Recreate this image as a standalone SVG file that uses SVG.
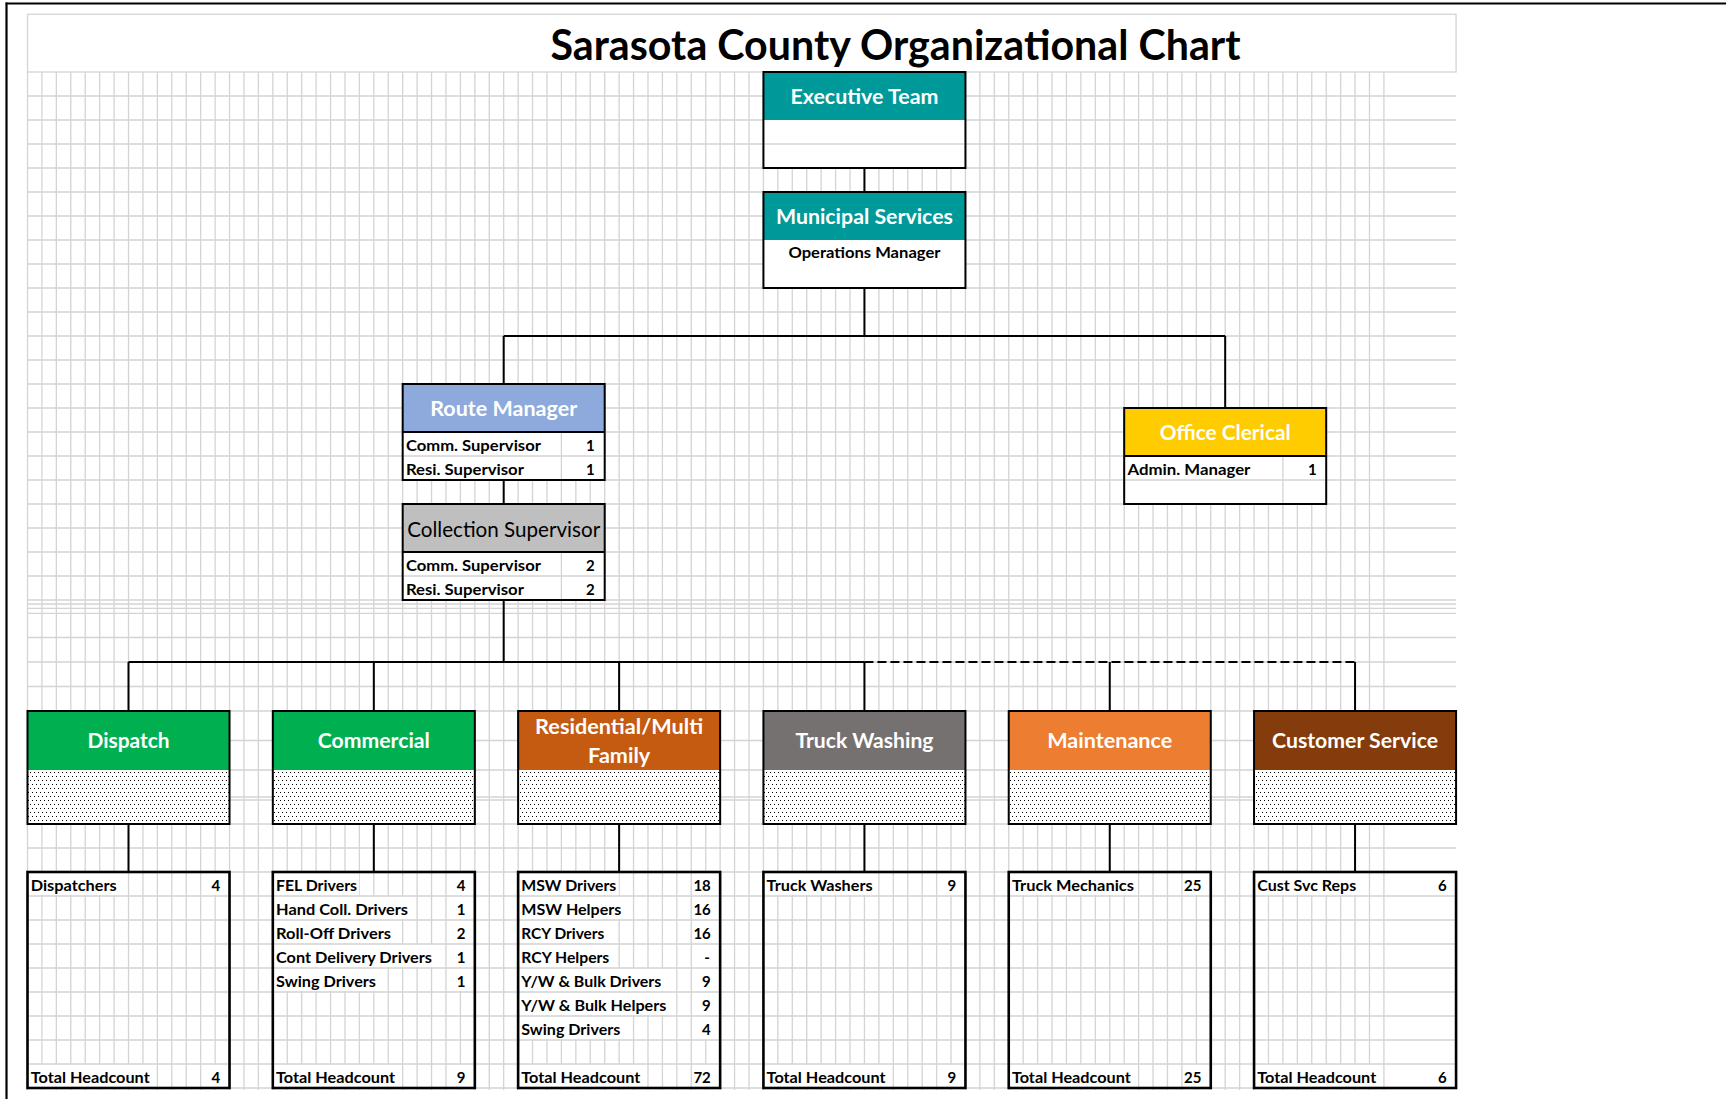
<svg xmlns="http://www.w3.org/2000/svg" width="1726" height="1099" viewBox="0 0 1726 1099">
<style>
.g{stroke:#D4D4D4;stroke-width:1.3;fill:none}
.bx{fill:none;stroke:#000;stroke-width:2}
.lbx{fill:none;stroke:#000;stroke-width:2.6}
.c{stroke:#000;stroke-width:2;fill:none}
.d{stroke-dasharray:9 4}
.w{fill:#fff}
text{font-family:Lato,"Open Sans","Liberation Sans",sans-serif}
.h{font-weight:700;font-size:21px;fill:#fff;text-anchor:middle}
.s{font-weight:700;font-size:15px;fill:#000}
.n{font-weight:700;font-size:15px;fill:#000;text-anchor:end}
</style>
<defs>
<pattern id="dots" width="4" height="8" patternUnits="userSpaceOnUse">
<rect width="4" height="8" fill="#fff"/>
<rect x="0" y="0" width="1" height="1" fill="#000"/>
<rect x="2" y="4" width="1" height="1" fill="#000"/>
</pattern>
</defs>
<rect width="1726" height="1099" fill="#fff"/>
<g id="frame">
<path d="M5.7 3.5H1726" stroke="#000" stroke-width="2" fill="none"/>
<path d="M6.5 2.5V1099" stroke="#000" stroke-width="2.2" fill="none"/>
</g>
<g id="grid">
<path class="g" d="M27.5 72v1018m14.43-1018v1018m14.43-1018v1018m14.43-1018v1018m14.43-1018v1018m14.43-1018v1018m14.43-1018v1018m14.43-1018v1018m14.43-1018v1018m14.43-1018v1018m14.43-1018v1018m14.43-1018v1018m14.43-1018v1018m14.43-1018v1018m14.43-1018v1018m14.43-1018v1018m14.43-1018v1018m14.43-1018v1018m14.43-1018v1018m14.43-1018v1018m14.43-1018v1018m14.43-1018v1018m14.43-1018v1018m14.43-1018v1018m14.43-1018v1018m14.43-1018v1018m14.43-1018v1018m14.43-1018v1018m14.43-1018v1018m14.43-1018v1018m14.43-1018v1018m14.43-1018v1018m14.43-1018v1018m14.43-1018v1018m14.43-1018v1018m14.43-1018v1018m14.43-1018v1018m14.43-1018v1018m14.43-1018v1018m14.43-1018v1018m14.43-1018v1018m14.43-1018v1018m14.43-1018v1018m14.43-1018v1018m14.43-1018v1018m14.43-1018v1018m14.43-1018v1018m14.43-1018v1018m14.43-1018v1018m14.43-1018v1018m14.43-1018v1018m14.43-1018v1018m14.43-1018v1018m14.43-1018v1018m14.43-1018v1018m14.43-1018v1018m14.43-1018v1018m14.43-1018v1018m14.43-1018v1018m14.43-1018v1018m14.43-1018v1018m14.43-1018v1018m14.43-1018v1018m14.43-1018v1018m14.43-1018v1018m14.43-1018v1018m14.43-1018v1018m14.43-1018v1018m14.43-1018v1018m14.43-1018v1018m14.43-1018v1018m14.43-1018v1018m14.43-1018v1018m14.43-1018v1018m14.43-1018v1018m14.43-1018v1018m14.43-1018v1018m14.43-1018v1018m14.43-1018v1018m14.43-1018v1018m14.43-1018v1018m14.43-1018v1018m14.43-1018v1018m14.43-1018v1018m14.43-1018v1018m14.43-1018v1018m14.43-1018v1018m14.43-1018v1018m14.43-1018v1018m14.43-1018v1018m14.43-1018v1018m14.43-1018v1018m14.43-1018v1018m14.43-1018v1018m14.43-1018v1018"/>
<path class="g" d="M27.5 96H1456.07M27.5 120H1456.07M27.5 144H1456.07M27.5 168H1456.07M27.5 192H1456.07M27.5 216H1456.07M27.5 240H1456.07M27.5 264H1456.07M27.5 288H1456.07M27.5 312H1456.07M27.5 336H1456.07M27.5 360H1456.07M27.5 384H1456.07M27.5 408H1456.07M27.5 432H1456.07M27.5 456H1456.07M27.5 480H1456.07M27.5 504H1456.07M27.5 528H1456.07M27.5 552H1456.07M27.5 576H1456.07M27.5 600H1456.07M27.5 604H1456.07M27.5 608.3H1456.07M27.5 613.3H1456.07M27.5 637.5H1456.07M27.5 662H1456.07M27.5 686.5H1456.07M27.5 711H1456.07M27.5 740.5H1456.07M27.5 770H1456.07M27.5 797H1456.07M27.5 800H1456.07M27.5 824H1456.07M27.5 848H1456.07M27.5 872H1456.07M27.5 896H1456.07M27.5 920H1456.07M27.5 944H1456.07M27.5 968H1456.07M27.5 992H1456.07M27.5 1016H1456.07M27.5 1040H1456.07M27.5 1064H1456.07M27.5 1088H1456.07"/>
<rect x="27.5" y="14.3" width="1428.57" height="57.7" fill="#fff" stroke="#D4D4D4" stroke-width="1.3"/>
</g>
<text id="title" x="895.5" y="60" font-size="42" font-weight="700" text-anchor="middle" fill="#000" textLength="690" lengthAdjust="spacingAndGlyphs">Sarasota County Organizational Chart</text>

<g id="executive-team">
<rect class="w" x="763.43" y="72" width="202.02" height="96"/>
<rect x="763.43" y="72" width="202.02" height="48" fill="#009999"/>
<path class="g" d="M764.4 144H964.5"/>
<rect class="bx" x="763.43" y="72" width="202.02" height="96"/>
<text class="h" x="864.44" y="103.5" textLength="148" lengthAdjust="spacingAndGlyphs">Executive Team</text>
</g>
<g id="municipal-services">
<rect class="w" x="763.43" y="192" width="202.02" height="96"/>
<rect x="763.43" y="192" width="202.02" height="48" fill="#009999"/>
<rect class="bx" x="763.43" y="192" width="202.02" height="96"/>
<text class="h" x="864.44" y="223.5" textLength="177" lengthAdjust="spacingAndGlyphs">Municipal Services</text>
<text class="s" x="864.44" y="257.5" text-anchor="middle" textLength="152" lengthAdjust="spacingAndGlyphs">Operations Manager</text>
</g>
<g id="route-manager">
<rect class="w" x="402.68" y="384" width="202.02" height="96"/>
<rect x="402.68" y="384" width="202.02" height="48" fill="#8EA9DB"/>
<path class="g" d="M403.7 456H603.7M561.41 433V479"/>
<path class="c" d="M402.68 432H604.7"/>
<rect class="bx" x="402.68" y="384" width="202.02" height="96"/>
<text class="h" x="503.69" y="415.5" textLength="147" lengthAdjust="spacingAndGlyphs">Route Manager</text>
<text class="s" x="405.9" y="450.5" textLength="135" lengthAdjust="spacingAndGlyphs">Comm. Supervisor</text>
<text class="n" x="594.7" y="450.5">1</text>
<text class="s" x="405.9" y="474.5" textLength="118" lengthAdjust="spacingAndGlyphs">Resi. Supervisor</text>
<text class="n" x="594.7" y="474.5" font-weight="400">1</text>
</g>
<g id="collection-supervisor">
<rect class="w" x="402.68" y="504" width="202.02" height="96"/>
<rect x="402.68" y="504" width="202.02" height="48" fill="#BFBFBF"/>
<path class="g" d="M403.7 576H603.7M561.41 553V599"/>
<path class="c" d="M402.68 552H604.7"/>
<rect class="bx" x="402.68" y="504" width="202.02" height="96"/>
<text x="503.69" y="536.5" font-size="21" text-anchor="middle" fill="#000" textLength="193" lengthAdjust="spacingAndGlyphs">Collection Supervisor</text>
<text class="s" x="405.9" y="570.5" textLength="135" lengthAdjust="spacingAndGlyphs">Comm. Supervisor</text>
<text class="n" x="594.7" y="570.5">2</text>
<text class="s" x="405.9" y="594.5" textLength="118" lengthAdjust="spacingAndGlyphs">Resi. Supervisor</text>
<text class="n" x="594.7" y="594.5">2</text>
</g>
<g id="office-clerical">
<rect class="w" x="1124.18" y="408" width="202.02" height="96"/>
<rect x="1124.18" y="408" width="202.02" height="48" fill="#FFCC00"/>
<path class="g" d="M1125.2 480H1325.2M1282.91 457V503"/>
<path class="c" d="M1124.18 456H1326.2"/>
<rect class="bx" x="1124.18" y="408" width="202.02" height="96"/>
<text class="h" x="1225.19" y="439.5" textLength="131" lengthAdjust="spacingAndGlyphs">Office Clerical</text>
<text class="s" x="1127.4" y="474.5" textLength="123" lengthAdjust="spacingAndGlyphs">Admin. Manager</text>
<text class="n" x="1316.7" y="474.5">1</text>
</g>

<g id="dispatch">
<rect x="27.5" y="711" width="202.02" height="59" fill="#00B050"/>
<rect x="27.5" y="770" width="202.02" height="54" fill="url(#dots)"/>
<rect class="bx" x="27.5" y="711" width="202.02" height="113"/>
<text class="h" x="128.51" y="748" textLength="82" lengthAdjust="spacingAndGlyphs">Dispatch</text>
</g>
<g id="commercial">
<rect x="272.81" y="711" width="202.02" height="59" fill="#00B050"/>
<rect x="272.81" y="770" width="202.02" height="54" fill="url(#dots)"/>
<rect class="bx" x="272.81" y="711" width="202.02" height="113"/>
<text class="h" x="373.82" y="748" textLength="112" lengthAdjust="spacingAndGlyphs">Commercial</text>
</g>
<g id="residential-multi-family">
<rect x="518.12" y="711" width="202.02" height="59" fill="#C55A11"/>
<rect x="518.12" y="770" width="202.02" height="54" fill="url(#dots)"/>
<rect class="bx" x="518.12" y="711" width="202.02" height="113"/>
<text class="h" x="619.13" y="733.5" textLength="168" lengthAdjust="spacingAndGlyphs">Residential/Multi</text>
<text class="h" x="619.13" y="763" textLength="62" lengthAdjust="spacingAndGlyphs">Family</text>
</g>
<g id="truck-washing">
<rect x="763.43" y="711" width="202.02" height="59" fill="#767171"/>
<rect x="763.43" y="770" width="202.02" height="54" fill="url(#dots)"/>
<rect class="bx" x="763.43" y="711" width="202.02" height="113"/>
<text class="h" x="864.44" y="748" textLength="138" lengthAdjust="spacingAndGlyphs">Truck Washing</text>
</g>
<g id="maintenance">
<rect x="1008.74" y="711" width="202.02" height="59" fill="#ED7D31"/>
<rect x="1008.74" y="770" width="202.02" height="54" fill="url(#dots)"/>
<rect class="bx" x="1008.74" y="711" width="202.02" height="113"/>
<text class="h" x="1109.75" y="748" textLength="125" lengthAdjust="spacingAndGlyphs">Maintenance</text>
</g>
<g id="customer-service">
<rect x="1254.05" y="711" width="202.02" height="59" fill="#843C0C"/>
<rect x="1254.05" y="770" width="202.02" height="54" fill="url(#dots)"/>
<rect class="bx" x="1254.05" y="711" width="202.02" height="113"/>
<text class="h" x="1355.06" y="748" textLength="166" lengthAdjust="spacingAndGlyphs">Customer Service</text>
</g>

<g id="dispatch-staff">
<rect class="w" x="29" y="873" width="90" height="22"/><rect class="w" x="210" y="873" width="12" height="22"/>
<rect class="w" x="29" y="1065" width="123" height="22"/><rect class="w" x="210" y="1065" width="12" height="22"/>
<rect class="lbx" x="27.5" y="872" width="202.02" height="216"/>
<text class="s" x="30.7" y="890.8" textLength="86" lengthAdjust="spacingAndGlyphs">Dispatchers</text><text class="n" x="220.2" y="890.8">4</text>
<text class="s" x="30.7" y="1082.8" textLength="119" lengthAdjust="spacingAndGlyphs">Total Headcount</text><text class="n" x="220.2" y="1082.8">4</text>
</g>
<g id="commercial-staff">
<rect class="w" x="274.3" y="873" width="85" height="22"/><rect class="w" x="455.5" y="873" width="12" height="22"/>
<rect class="w" x="274.3" y="897" width="136" height="22"/><rect class="w" x="455.5" y="897" width="12" height="22"/>
<rect class="w" x="274.3" y="921" width="119" height="22"/><rect class="w" x="455.5" y="921" width="12" height="22"/>
<rect class="w" x="274.3" y="945" width="160" height="22"/><rect class="w" x="455.5" y="945" width="12" height="22"/>
<rect class="w" x="274.3" y="969" width="104" height="22"/><rect class="w" x="455.5" y="969" width="12" height="22"/>
<rect class="w" x="274.3" y="1065" width="123" height="22"/><rect class="w" x="455.5" y="1065" width="12" height="22"/>
<rect class="lbx" x="272.81" y="872" width="202.02" height="216"/>
<text class="s" x="276" y="890.8" textLength="81" lengthAdjust="spacingAndGlyphs">FEL Drivers</text><text class="n" x="465.5" y="890.8">4</text>
<text class="s" x="276" y="914.8" textLength="132" lengthAdjust="spacingAndGlyphs">Hand Coll. Drivers</text><text class="n" x="465.5" y="914.8">1</text>
<text class="s" x="276" y="938.8" textLength="115" lengthAdjust="spacingAndGlyphs">Roll-Off Drivers</text><text class="n" x="465.5" y="938.8">2</text>
<text class="s" x="276" y="962.8" textLength="156" lengthAdjust="spacingAndGlyphs">Cont Delivery Drivers</text><text class="n" x="465.5" y="962.8">1</text>
<text class="s" x="276" y="986.8" textLength="100" lengthAdjust="spacingAndGlyphs">Swing Drivers</text><text class="n" x="465.5" y="986.8">1</text>
<text class="s" x="276" y="1082.8" textLength="119" lengthAdjust="spacingAndGlyphs">Total Headcount</text><text class="n" x="465.5" y="1082.8">9</text>
</g>
<g id="residential-staff">
<rect class="w" x="519.6" y="873" width="99" height="22"/><rect class="w" x="693" y="873" width="20" height="22"/>
<rect class="w" x="519.6" y="897" width="104" height="22"/><rect class="w" x="693" y="897" width="20" height="22"/>
<rect class="w" x="519.6" y="921" width="87" height="22"/><rect class="w" x="693" y="921" width="20" height="22"/>
<rect class="w" x="519.6" y="945" width="92" height="22"/><rect class="w" x="700" y="945" width="13" height="22"/>
<rect class="w" x="519.6" y="969" width="144" height="22"/><rect class="w" x="700" y="969" width="13" height="22"/>
<rect class="w" x="519.6" y="993" width="149" height="22"/><rect class="w" x="700" y="993" width="13" height="22"/>
<rect class="w" x="519.6" y="1017" width="103" height="22"/><rect class="w" x="700" y="1017" width="13" height="22"/>
<rect class="w" x="519.6" y="1065" width="123" height="22"/><rect class="w" x="693" y="1065" width="20" height="22"/>
<rect class="lbx" x="518.12" y="872" width="202.02" height="216"/>
<text class="s" x="521.3" y="890.8" textLength="95" lengthAdjust="spacingAndGlyphs">MSW Drivers</text><text class="n" x="710.8" y="890.8">18</text>
<text class="s" x="521.3" y="914.8" textLength="100" lengthAdjust="spacingAndGlyphs">MSW Helpers</text><text class="n" x="710.8" y="914.8">16</text>
<text class="s" x="521.3" y="938.8" textLength="83" lengthAdjust="spacingAndGlyphs">RCY Drivers</text><text class="n" x="710.8" y="938.8">16</text>
<text class="s" x="521.3" y="962.8" textLength="88" lengthAdjust="spacingAndGlyphs">RCY Helpers</text><text class="n" x="709.8" y="962.8">-</text>
<text class="s" x="521.3" y="986.8" textLength="140" lengthAdjust="spacingAndGlyphs">Y/W &amp; Bulk Drivers</text><text class="n" x="710.8" y="986.8">9</text>
<text class="s" x="521.3" y="1010.8" textLength="145" lengthAdjust="spacingAndGlyphs">Y/W &amp; Bulk Helpers</text><text class="n" x="710.8" y="1010.8">9</text>
<text class="s" x="521.3" y="1034.8" textLength="99" lengthAdjust="spacingAndGlyphs">Swing Drivers</text><text class="n" x="710.8" y="1034.8">4</text>
<text class="s" x="521.3" y="1082.8" textLength="119" lengthAdjust="spacingAndGlyphs">Total Headcount</text><text class="n" x="710.8" y="1082.8">72</text>
</g>
<g id="truck-washing-staff">
<rect class="w" x="764.9" y="873" width="110" height="22"/><rect class="w" x="946" y="873" width="12" height="22"/>
<rect class="w" x="764.9" y="1065" width="123" height="22"/><rect class="w" x="946" y="1065" width="12" height="22"/>
<rect class="lbx" x="763.43" y="872" width="202.02" height="216"/>
<text class="s" x="766.6" y="890.8" textLength="106" lengthAdjust="spacingAndGlyphs">Truck Washers</text><text class="n" x="956.2" y="890.8">9</text>
<text class="s" x="766.6" y="1082.8" textLength="119" lengthAdjust="spacingAndGlyphs">Total Headcount</text><text class="n" x="956.2" y="1082.8">9</text>
</g>
<g id="maintenance-staff">
<rect class="w" x="1010.2" y="873" width="126" height="22"/><rect class="w" x="1183.5" y="873" width="20" height="22"/>
<rect class="w" x="1010.2" y="1065" width="123" height="22"/><rect class="w" x="1183.5" y="1065" width="20" height="22"/>
<rect class="lbx" x="1008.74" y="872" width="202.02" height="216"/>
<text class="s" x="1011.9" y="890.8" textLength="122" lengthAdjust="spacingAndGlyphs">Truck Mechanics</text><text class="n" x="1201.5" y="890.8">25</text>
<text class="s" x="1011.9" y="1082.8" textLength="119" lengthAdjust="spacingAndGlyphs">Total Headcount</text><text class="n" x="1201.5" y="1082.8">25</text>
</g>
<g id="customer-service-staff">
<rect class="w" x="1255.5" y="873" width="103" height="22"/><rect class="w" x="1437" y="873" width="12" height="22"/>
<rect class="w" x="1255.5" y="1065" width="123" height="22"/><rect class="w" x="1437" y="1065" width="12" height="22"/>
<rect class="lbx" x="1254.05" y="872" width="202.02" height="216"/>
<text class="s" x="1257.2" y="890.8" textLength="99" lengthAdjust="spacingAndGlyphs">Cust Svc Reps</text><text class="n" x="1446.8" y="890.8">6</text>
<text class="s" x="1257.2" y="1082.8" textLength="119" lengthAdjust="spacingAndGlyphs">Total Headcount</text><text class="n" x="1446.8" y="1082.8">6</text>
</g>

<g id="connectors">
<path class="c" d="M864.44 168V192"/>
<path class="c" d="M864.44 288V336M503.69 336H1225.19M503.69 336V384M1225.19 336V408"/>
<path class="c" d="M503.69 480V504"/>
<path class="c" d="M503.69 600V662M128.51 662H864.44M128.51 662V711M373.82 662V711M619.13 662V711M864.44 662V711M1109.75 662V711M1355.06 662V711"/>
<path class="c d" d="M864.44 662H1355.06"/>
<path class="c" d="M128.51 824V872M373.82 824V872M619.13 824V872M864.44 824V872M1109.75 824V872M1355.06 824V872"/>
</g>
</svg>
